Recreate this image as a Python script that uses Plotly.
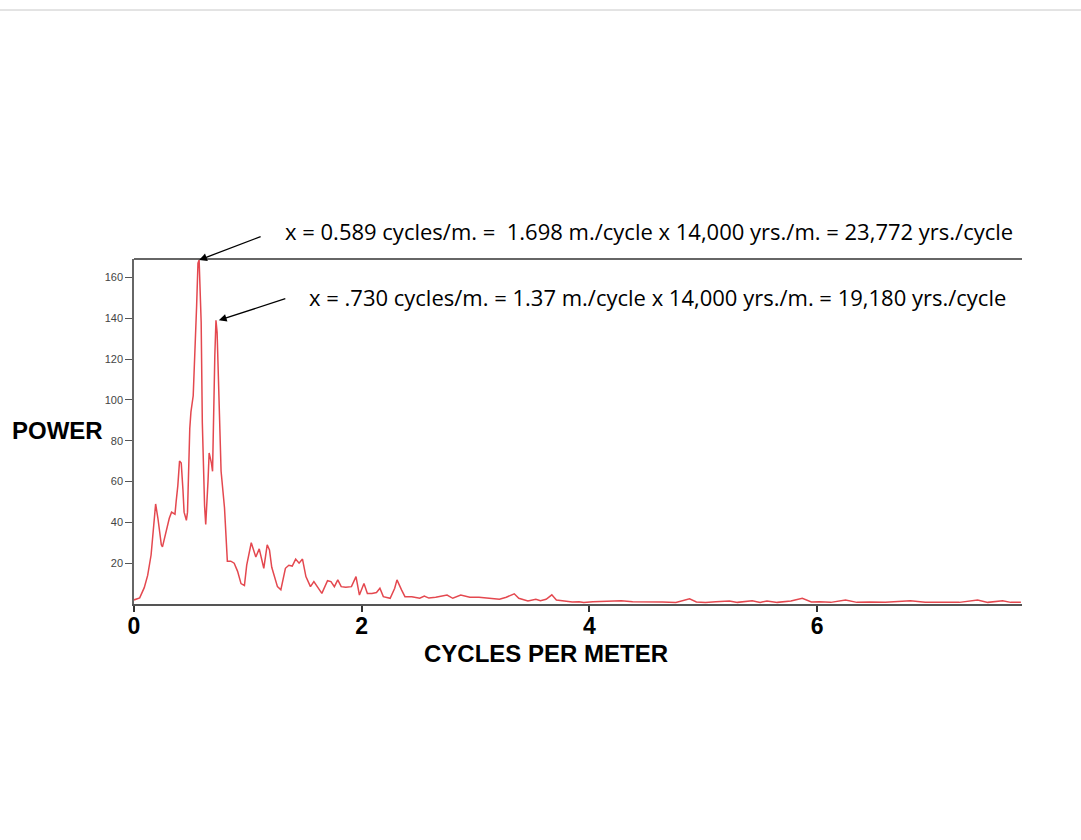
import plotly.graph_objects as go

# ---- data (power spectrum) ----
freq = [0.00, 0.05, 0.09, 0.12, 0.15, 0.17, 0.19, 0.21, 0.24, 0.25, 0.28, 0.31, 0.33, 0.36, 0.37,
        0.385, 0.40, 0.415, 0.43, 0.44, 0.46, 0.47, 0.49, 0.50, 0.52, 0.53, 0.55, 0.562, 0.572,
        0.59, 0.60, 0.62, 0.63, 0.65, 0.66, 0.68, 0.69, 0.71, 0.72, 0.73, 0.745, 0.765, 0.795,
        0.82, 0.85, 0.88, 0.91, 0.94, 0.97, 0.99, 1.03, 1.07, 1.10, 1.14, 1.17, 1.19, 1.21,
        1.26, 1.29, 1.33, 1.36, 1.39, 1.42, 1.45, 1.48, 1.51, 1.55, 1.58, 1.61, 1.65, 1.70,
        1.73, 1.76, 1.79, 1.82, 1.86, 1.91, 1.95, 1.98, 2.02, 2.05, 2.09, 2.13, 2.16, 2.19,
        2.25, 2.29, 2.31, 2.35, 2.38, 2.44, 2.51, 2.55, 2.59, 2.65, 2.75, 2.80, 2.87, 2.95,
        3.03, 3.12, 3.21, 3.27, 3.34, 3.38, 3.46, 3.53, 3.57, 3.62, 3.67, 3.71, 3.78, 3.85,
        3.91, 3.95, 4.03, 4.12, 4.17, 4.23, 4.28, 4.38, 4.52, 4.64, 4.76, 4.88, 4.94, 5.02,
        5.11, 5.23, 5.30, 5.43, 5.50, 5.56, 5.65, 5.77, 5.87, 5.95, 6.02, 6.12, 6.25, 6.35,
        6.46, 6.60, 6.82, 6.95, 7.10, 7.25, 7.41, 7.50, 7.63, 7.70, 7.79]
power = [2, 3, 8, 14, 24, 35, 49, 42, 29, 28, 35, 42, 45, 44, 50,
         58, 70, 69, 56, 45, 41, 45, 86, 94, 102, 115, 146, 167, 168.5,
         138, 89, 48, 39, 60, 74, 69, 65, 122, 139, 133, 105, 65, 47,
         21, 21, 20, 16, 10, 9, 19, 30, 23, 27, 17.5, 29, 26.5, 18,
         8.5, 7, 17.5, 19, 18.6, 22, 20, 22, 13.4, 8.5, 11, 8.5, 5.2, 11.4,
         11, 8.5, 11.8, 8.5, 8.2, 8.5, 13.4, 4.4, 10, 5.2, 5.2, 5.6, 7.7, 3.6,
         2.8, 7.7, 11.8, 6.9, 3.6, 3.6, 2.8, 3.9, 2.9, 3.3, 4.4, 2.8, 4.4, 3.3,
         3.3, 2.8, 2.3, 3.3, 5.0, 2.8, 1.5, 2.3, 1.6, 2.3, 4.5, 2.0, 1.6, 1.0,
         1.1, 0.7, 1.1, 1.3, 1.6, 1.5, 1.6, 1.1, 1.1, 1.0, 0.7, 2.5, 1.0, 0.7,
         1.1, 1.5, 0.8, 1.6, 0.8, 1.5, 0.8, 1.5, 2.8, 1.0, 1.1, 0.8, 2.0, 0.8,
         1.0, 0.8, 1.6, 0.8, 0.9, 0.8, 2.0, 0.8, 1.6, 0.8, 0.8]

x_ticks = [0, 2, 4, 6]
y_ticks = [20, 40, 60, 80, 100, 120, 140, 160]

note1 = "x = 0.589 cycles/m. =  1.698 m./cycle x 14,000 yrs./m. = 23,772 yrs./cycle"
note2 = "x = .730 cycles/m. = 1.37 m./cycle x 14,000 yrs./m. = 19,180 yrs./cycle"
x_title = "CYCLES PER METER"
y_title = "POWER"

# peaks pointed at by the arrows
i1 = max(range(len(power)), key=lambda i: power[i])
i2 = max((i for i in range(len(power)) if 0.7 <= freq[i] <= 0.8), key=lambda i: power[i])

fig = go.Figure()
fig.add_trace(go.Scatter(x=freq, y=power, mode="lines",
                         line=dict(color="#E4484F", width=1.5), hoverinfo="skip",
                         showlegend=False, cliponaxis=False))

boldfont = "Liberation Sans, Arial, sans-serif"
txtfont = "Open Sans, Lato, sans-serif"

fig.update_layout(
    width=1081, height=840,
    margin=dict(l=134, r=59, t=259, b=236),
    paper_bgcolor="white", plot_bgcolor="white",
    xaxis=dict(range=[0, 7.8], tickvals=x_ticks, ticktext=[str(v) for v in x_ticks],
               showgrid=False, zeroline=False, showline=True, linecolor="#555555", linewidth=1.5,
               ticks="outside", ticklen=6, tickcolor="#333333", tickwidth=1.5,
               ticklabelstandoff=-5,
               tickfont=dict(family=boldfont, size=23, color="black", weight="bold")),
    yaxis=dict(range=[0, 169], tickvals=y_ticks, ticktext=[str(v) for v in y_ticks],
               showgrid=False, zeroline=False, showline=True, linecolor="#666666", linewidth=1.5,
               ticks="outside", ticklen=7, tickcolor="#555555", tickwidth=1,
               tickfont=dict(family="Liberation Sans, Arial, sans-serif", size=11, color="#444444")),
    font=dict(family=txtfont),
)

# top frame line of the plot
fig.add_shape(type="line", xref="paper", yref="paper", x0=0, x1=1, y0=1, y1=1,
              line=dict(color="#333333", width=1.5))
# faint scan line at the very top of the page
fig.add_shape(type="line", xref="paper", yref="paper", x0=-134/888, x1=947/888,
              y0=594/345, y1=594/345, line=dict(color="#c8c8c8", width=1))

# arrows
fig.add_annotation(x=freq[i1], y=power[i1], xref="x", yref="y", text="", showarrow=True,
                   arrowhead=2, arrowsize=1.2, arrowwidth=1.3, arrowcolor="black",
                   ax=63, ay=-24, standoff=0)
fig.add_annotation(x=freq[i2] + 0.025, y=power[i2], xref="x", yref="y", text="", showarrow=True,
                   arrowhead=2, arrowsize=1.2, arrowwidth=1.3, arrowcolor="black",
                   ax=68, ay=-22, standoff=0)

# notes
fig.add_annotation(x=(283 - 134) / 888, y=(604 - 231) / 345, xref="paper", yref="paper",
                   text=note1, showarrow=False, xanchor="left", yanchor="middle",
                   font=dict(family=txtfont, size=22, color="black"))
fig.add_annotation(x=(307 - 134) / 888, y=(604 - 297) / 345, xref="paper", yref="paper",
                   text=note2, showarrow=False, xanchor="left", yanchor="middle",
                   font=dict(family=txtfont, size=22, color="black"))

# axis titles
fig.add_annotation(x=(57 - 134) / 888, y=(604 - 430) / 345, xref="paper", yref="paper",
                   text=y_title, showarrow=False, xanchor="center", yanchor="middle",
                   font=dict(family=boldfont, size=24, color="black", weight="bold"))
fig.add_annotation(x=(546 - 134) / 888, y=(604 - 653) / 345, xref="paper", yref="paper",
                   text=x_title, showarrow=False, xanchor="center", yanchor="middle",
                   font=dict(family=boldfont, size=24, color="black", weight="bold"))

fig.write_html("out.html")
